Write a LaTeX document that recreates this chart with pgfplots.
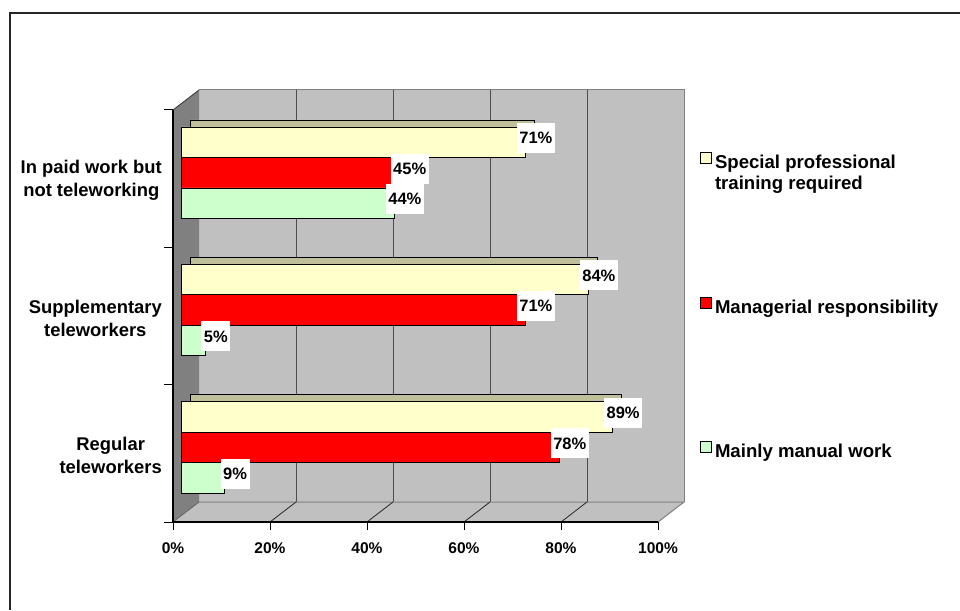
\documentclass[border=0pt]{standalone}
\usepackage{pgfplots}
\usepackage{pgfplotstable}
\pgfplotsset{compat=1.18}
\usepackage{fontspec}
\setmainfont{Liberation Sans}
\definecolor{yelF}{HTML}{FFFFCC}
\definecolor{yelD}{HTML}{BFBF99}
\definecolor{redF}{HTML}{FF0000}
\definecolor{redD}{HTML}{990000}
\definecolor{grnF}{HTML}{CCFFCC}
\definecolor{grnD}{HTML}{99BF99}
\definecolor{wall}{HTML}{C0C0C0}
\definecolor{lwall}{HTML}{808080}

\pgfplotstableread{
cat spec mgr man
0.5 89 78 9
1.5 84 71 5
2.5 71 45 44
}\datatable

\begin{document}
\begin{tikzpicture}
\path[use as bounding box] (0pt,0pt) rectangle (960pt,610pt);
\draw[line width=1.5pt, black!85] (10pt,0pt) -- (10pt,597pt) -- (960pt,597pt);
\begin{axis}[
  at={(181pt,94pt)}, anchor=south west,
  scale only axis, width=485pt, height=412pt,
  xmin=0, xmax=100, ymin=0, ymax=3,
  axis line style={draw=none},
  tick style={draw=none},
  major tick length=0pt,
  clip=false,
  /pgf/number format/assume math mode=true,
  xtick={0,20,40,60,80,100},
  xticklabels={0\%,20\%,40\%,60\%,80\%,100\%},
  xticklabel style={font=\fontsize{15.5}{18}\selectfont\bfseries, anchor=center, xshift=-8pt, yshift=-32pt},
  ytick={0.5,1.5,2.5},
  yticklabels={Regular\\teleworkers, Supplementary\\teleworkers, In paid work but\\not teleworking},
  yticklabel style={font=\fontsize{18.4}{23}\selectfont\bfseries, align=center, anchor=east, inner xsep=0pt, xshift=-19pt, yshift=-8pt},
  legend style={at={(1.0701,0.8835)}, anchor=north west, draw=none, fill=none, inner sep=0pt,
    row sep=126.5pt, column sep=3pt, cells={anchor=base west},
    font=\fontsize{18.6}{21}\selectfont\bfseries, nodes={inner sep=0pt}},
  bar width=30.5pt,
]
% back wall
\fill[wall] ([shift={(18pt,14pt)}]axis cs:0,0) rectangle ([shift={(18pt,14pt)}]axis cs:100,3);
\draw[lwall, line width=1pt] ([shift={(18pt,14pt)}]axis cs:0,3) -- ([shift={(18pt,14pt)}]axis cs:100,3) -- ([shift={(18pt,14pt)}]axis cs:100,0);
\pgfplotsinvokeforeach{20,40,60,80}{
  \draw[black!70, line width=1pt] ([shift={(18pt,14pt)}]axis cs:#1,0) -- ([shift={(18pt,14pt)}]axis cs:#1,3);
}
% floor
\fill[wall] ([shift={(-8pt,-6pt)}]axis cs:0,0) -- ([shift={(-8pt,-6pt)}]axis cs:100,0) -- ([shift={(18pt,14pt)}]axis cs:100,0) -- ([shift={(18pt,14pt)}]axis cs:0,0) -- cycle;
\draw[lwall, line width=1pt] ([shift={(-8pt,-6pt)}]axis cs:100,0) -- ([shift={(18pt,14pt)}]axis cs:100,0) -- ([shift={(18pt,14pt)}]axis cs:0,0);
\pgfplotsinvokeforeach{20,40,60,80}{
  \draw[black!85, line width=0.8pt] ([shift={(-8pt,-6pt)}]axis cs:#1,0) -- ([shift={(18pt,14pt)}]axis cs:#1,0);
}
% left wall
\fill[lwall] ([shift={(-8pt,-6pt)}]axis cs:0,0) -- ([shift={(18pt,14pt)}]axis cs:0,0) -- ([shift={(18pt,14pt)}]axis cs:0,3) -- ([shift={(-8pt,-6pt)}]axis cs:0,3) -- cycle;
\draw[black!80, line width=0.8pt] ([shift={(-8pt,-6pt)}]axis cs:0,3) -- ([shift={(18pt,14pt)}]axis cs:0,3);
\draw[black!60, line width=0.8pt] ([shift={(-8pt,-6pt)}]axis cs:0,0) -- ([shift={(18pt,14pt)}]axis cs:0,0);
% front axes and ticks
\draw[black, line width=1.3pt] ([shift={(-8pt,-6pt)}]axis cs:0,3) -- ([shift={(-8pt,-6pt)}]axis cs:0,0) -- ([shift={(-8pt,-6pt)}]axis cs:100,0);
\pgfplotsinvokeforeach{0,20,40,60,80,100}{
  \draw[black, line width=1pt] ([shift={(-8pt,-6pt)}]axis cs:#1,0) -- ++(0pt,-8pt);
}
\pgfplotsinvokeforeach{0,1,2,3}{
  \draw[black, line width=1pt] ([shift={(-8pt,-6pt)}]axis cs:0,#1) -- ++(-9pt,0pt);
}
% bar depth (top/side faces)
\addplot[xbar, bar shift=30.5pt, fill=yelD, draw=black, line width=0.8pt, xshift=9pt, yshift=7pt, forget plot] table[x=spec, y=cat] {\datatable};
\addplot[xbar, bar shift=0pt, fill=redD, draw=black, line width=0.8pt, xshift=9pt, yshift=7pt, forget plot] table[x=mgr, y=cat] {\datatable};
\addplot[xbar, bar shift=-30.5pt, fill=grnD, draw=black, line width=0.8pt, xshift=9pt, yshift=7pt, forget plot] table[x=man, y=cat] {\datatable};
% bar fronts
\pgfplotsset{lbl/.style={point meta=x,
  nodes near coords={\pgfmathprintnumber{\pgfplotspointmeta}\%},
  every node near coord/.append style={anchor=center, xshift=10.5pt, yshift=#1, fill=white, inner xsep=2.5pt, inner ysep=0pt, minimum height=30pt, font=\fontsize{16.5}{19}\selectfont\bfseries, text=black}}}
\addplot[xbar, bar shift=30.5pt, fill=yelF, draw=black, line width=0.8pt, forget plot, lbl=34.5pt] table[x=spec, y=cat] {\datatable};
\addplot[xbar, bar shift=0pt, fill=redF, draw=black, line width=0.8pt, forget plot, lbl=4pt] table[x=mgr, y=cat] {\datatable};
\addplot[xbar, bar shift=-30.5pt, fill=grnF, draw=black, line width=0.8pt, forget plot, lbl=-26.5pt] table[x=man, y=cat] {\datatable};
% legend
\addlegendimage{legend image code/.code={\draw[fill=yelF, draw=black, line width=0.8pt] (0pt,5pt) rectangle (11pt,16pt);}}
\addlegendentry{\rule[-30pt]{0pt}{15pt}\begin{tabular}[t]{@{}l@{}}Special professional\\training required\end{tabular}}
\addlegendimage{legend image code/.code={\draw[fill=redF, draw=black, line width=0.8pt] (0pt,5pt) rectangle (11pt,16pt);}}
\addlegendentry{\rule[-30pt]{0pt}{15pt}Managerial responsibility}
\addlegendimage{legend image code/.code={\draw[fill=grnF, draw=black, line width=0.8pt] (0pt,5pt) rectangle (11pt,16pt);}}
\addlegendentry{\rule[-30pt]{0pt}{15pt}Mainly manual work}
\end{axis}
\end{tikzpicture}
\end{document}
